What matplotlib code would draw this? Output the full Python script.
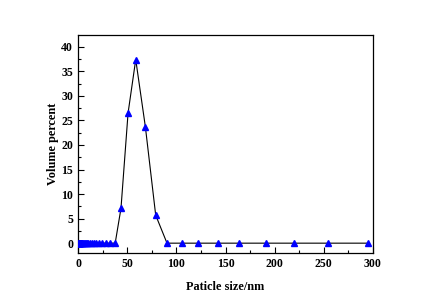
import matplotlib
matplotlib.use("Agg")
import matplotlib.pyplot as plt
from matplotlib.ticker import MultipleLocator

# Particle size (nm) and volume percent
size_nm = [0.6, 0.7, 0.8, 0.9, 1.05, 1.2, 1.4, 1.6, 1.9, 2.2, 2.5, 2.9, 3.3, 3.8,
           4.4, 5.1, 5.9, 6.8, 7.8, 9.0, 10.4, 12.0, 13.9, 16.0, 18.5, 21.3, 24.6,
           28.4, 32.7, 37.8, 43.7, 50.9, 58.7, 68.5, 79.0, 90.5, 106, 122, 142,
           164, 191, 220, 254, 295]
volume_pct = [0.0] * 30 + [7.1, 26.5, 37.4, 23.7, 5.7, 0.0, 0.0, 0.0, 0.0,
                           0.0, 0.0, 0.0, 0.0, 0.0]

xticks = [0, 50, 100, 150, 200, 250, 300]
yticks = [0, 5, 10, 15, 20, 25, 30, 35, 40]

plt.rcParams['font.family'] = ['Liberation Serif', 'DejaVu Serif']
plt.rcParams['font.weight'] = 'bold'

fig = plt.figure(figsize=(4.32, 3.02), dpi=100)
ax = fig.add_axes([0.1806, 0.1623, 0.6828, 0.7218])

ax.plot(size_nm, volume_pct, color='black', linewidth=0.8,
        marker='^', markersize=5, markerfacecolor='#0000ff',
        markeredgecolor='#0000ff', zorder=3)

ax.set_xlim(0, 300)
ax.set_ylim(-2.0, 42.4)
ax.set_xticks(xticks)
ax.set_yticks(yticks)
ax.xaxis.set_minor_locator(MultipleLocator(25))
ax.yaxis.set_minor_locator(MultipleLocator(2.5))
ax.tick_params(which='both', direction='in', top=False, right=False,
               labelsize=8.5, width=0.8)
ax.tick_params(which='major', length=4)
ax.tick_params(which='minor', length=2)
for lbl in ax.get_xticklabels() + ax.get_yticklabels():
    lbl.set_fontweight('bold')
for sp in ax.spines.values():
    sp.set_linewidth(0.9)

ax.set_xlabel('Paticle size/nm', fontsize=8.8, fontweight='bold', labelpad=8)
ax.set_ylabel('Volume percent', fontsize=8.8, fontweight='bold', labelpad=2)

fig.savefig('out.png', dpi=100)
